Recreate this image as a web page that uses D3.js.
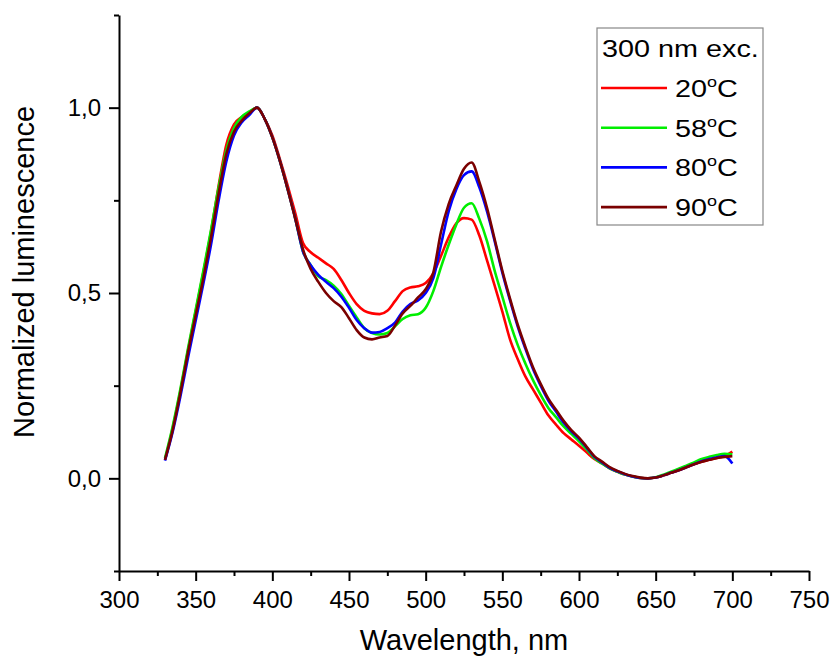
<!DOCTYPE html>
<html>
<head>
<meta charset="utf-8">
<script src="https://cdn.jsdelivr.net/npm/d3@7.9.0/dist/d3.min.js"></script>
<style>
  body { margin: 0; background: #fff; }
  svg { display: block; font-family: Arial, "Liberation Sans", sans-serif; }
</style>
</head>
<body>
<svg id="chart" width="831" height="656"></svg>
<script>
// Data (normalized luminescence, 300 nm excitation)
const wavelengths = [
  330,335,340,345,350,355,360,365,370,375,
  380,385,390,395,400,405,410,415,420,425,
  430,435,440,445,450,455,460,465,470,475,
  480,485,490,495,500,505,510,515,520,525,
  530,535,540,545,550,555,560,565,570,575,
  580,585,590,595,600,605,610,615,620,625,
  630,635,640,645,650,655,660,665,670,675,
  680,685,690,695,700
];

const lum20 = [
  0.050,0.135,0.235,0.345,0.450,0.555,0.665,0.790,0.900,0.955,
  0.975,0.985,1.000,0.970,0.925,0.860,0.790,0.715,0.635,0.610,
  0.595,0.580,0.565,0.535,0.500,0.470,0.452,0.445,0.443,0.452,
  0.478,0.505,0.515,0.518,0.527,0.553,0.600,0.650,0.688,0.702,
  0.698,0.655,0.588,0.520,0.450,0.375,0.322,0.275,0.240,0.205,
  0.170,0.145,0.122,0.105,0.088,0.070,0.052,0.040,0.027,0.018,
  0.010,0.005,0.001,0.000,0.002,0.008,0.015,0.022,0.030,0.038,
  0.045,0.050,0.055,0.060,0.072
];

const lum58 = [
  0.055,0.140,0.240,0.350,0.455,0.560,0.670,0.785,0.885,0.945,
  0.975,0.990,1.000,0.970,0.920,0.855,0.780,0.700,0.612,0.575,
  0.545,0.535,0.520,0.497,0.465,0.434,0.405,0.392,0.388,0.392,
  0.410,0.430,0.440,0.443,0.460,0.505,0.570,0.630,0.685,0.730,
  0.742,0.700,0.640,0.560,0.490,0.420,0.360,0.310,0.265,0.225,
  0.190,0.165,0.140,0.120,0.100,0.078,0.055,0.040,0.027,0.018,
  0.010,0.005,0.001,0.000,0.003,0.010,0.018,0.026,0.034,0.043,
  0.052,0.058,0.063,0.066,0.065
];

const lum80 = [
  0.048,0.125,0.220,0.325,0.425,0.525,0.630,0.750,0.855,0.925,
  0.960,0.980,1.000,0.970,0.920,0.855,0.780,0.700,0.612,0.575,
  0.549,0.530,0.513,0.490,0.460,0.427,0.405,0.393,0.395,0.405,
  0.420,0.450,0.470,0.480,0.500,0.540,0.630,0.720,0.780,0.818,
  0.828,0.785,0.720,0.640,0.555,0.480,0.410,0.350,0.295,0.250,
  0.210,0.180,0.150,0.127,0.107,0.083,0.058,0.043,0.028,0.019,
  0.011,0.005,0.001,0.000,0.002,0.008,0.015,0.022,0.030,0.038,
  0.046,0.052,0.057,0.060,0.040
];

const lum90 = [
  0.050,0.130,0.230,0.340,0.440,0.540,0.650,0.770,0.875,0.935,
  0.965,0.985,1.000,0.970,0.920,0.855,0.780,0.700,0.618,0.565,
  0.530,0.500,0.478,0.462,0.432,0.400,0.380,0.375,0.380,0.384,
  0.412,0.445,0.465,0.488,0.510,0.555,0.665,0.740,0.790,0.835,
  0.852,0.800,0.730,0.645,0.560,0.485,0.415,0.355,0.300,0.255,
  0.215,0.185,0.155,0.130,0.110,0.085,0.060,0.045,0.030,0.020,
  0.012,0.006,0.002,0.000,0.002,0.008,0.015,0.022,0.030,0.038,
  0.045,0.050,0.055,0.058,0.060
];

const seriesNames = ['20', '58', '80', '90'];
const seriesColors = ['#ff0000', '#00ee00', '#0000ff', '#7a0000'];
const seriesValues = [lum20, lum58, lum80, lum90];

const xTicks = [300, 350, 400, 450, 500, 550, 600, 650, 700, 750];
const xMinorTicks = [325, 375, 425, 475, 525, 575, 625, 675, 725];
const yTicks = [0, 0.5, 1.0];
const yTickLabels = ['0,0', '0,5', '1,0'];
const yMinorTicks = [-0.25, 0.25, 0.75, 1.25];

const svg = d3.select('#chart');

// Scales
const x = d3.scaleLinear().domain([300, 750]).range([119, 809]);
const y = d3.scaleLinear().domain([-0.25, 1.25]).range([571, 15]);

// Axes: major + minor ticks
const xAxis = svg.append('g').attr('transform', 'translate(0,571)')
  .call(d3.axisBottom(x).tickValues(xTicks).tickSize(10).tickSizeOuter(0).tickPadding(10));
svg.append('g').attr('transform', 'translate(0,571)')
  .call(d3.axisBottom(x).tickValues(xMinorTicks).tickSize(5).tickFormat(''))
  .select('.domain').remove();

const yAxis = svg.append('g').attr('transform', 'translate(119,0)')
  .call(d3.axisLeft(y).tickValues(yTicks).tickSize(10).tickSizeOuter(0).tickPadding(8)
    .tickFormat((d, i) => yTickLabels[i]));
svg.append('g').attr('transform', 'translate(119,0)')
  .call(d3.axisLeft(y).tickValues(yMinorTicks).tickSize(5).tickFormat(''))
  .select('.domain').remove();

svg.selectAll('.domain, .tick line').attr('stroke', '#000').attr('stroke-width', 2);
svg.selectAll('.tick text').attr('font-size', 24).attr('fill', '#000')
  .attr('font-family', 'Arial, "Liberation Sans", sans-serif');

// Axis titles
svg.append('text')
  .attr('x', 464).attr('y', 650)
  .attr('text-anchor', 'middle').attr('font-size', 29)
  .text('Wavelength, nm');

svg.append('text')
  .attr('transform', 'translate(34,272) rotate(-90)')
  .attr('text-anchor', 'middle').attr('font-size', 29)
  .text('Normalized luminescence');

// Lines
const line = d3.line()
  .x((d, i) => x(wavelengths[i]))
  .y(d => y(d))
  .curve(d3.curveMonotoneX);

svg.append('g').selectAll('path')
  .data(seriesValues)
  .join('path')
  .attr('d', line)
  .attr('fill', 'none')
  .attr('stroke', (d, i) => seriesColors[i])
  .attr('stroke-width', 2.6)
  .attr('stroke-linejoin', 'round');

// Legend
const legend = svg.append('g');
legend.append('rect')
  .attr('x', 597).attr('y', 28).attr('width', 166).attr('height', 197)
  .attr('fill', '#fff').attr('stroke', '#888').attr('stroke-width', 1.2);

legend.append('text')
  .attr('transform', 'translate(602,57) scale(1.2,1)')
  .attr('font-size', 24)
  .text('300 nm exc.');

seriesNames.forEach((name, i) => {
  const ly = 88 + i * 39.7;
  legend.append('line')
    .attr('x1', 601).attr('x2', 667).attr('y1', ly).attr('y2', ly)
    .attr('stroke', seriesColors[i]).attr('stroke-width', 2.6);
  const t = legend.append('text')
    .attr('transform', `translate(675,${ly + 9}) scale(1.2,1)`)
    .attr('font-size', 24);
  t.append('tspan').text(name);
  t.append('tspan').attr('font-size', 15).attr('dy', -10).text('o');
  t.append('tspan').attr('dy', 10).text('C');
});
</script>
</body>
</html>
